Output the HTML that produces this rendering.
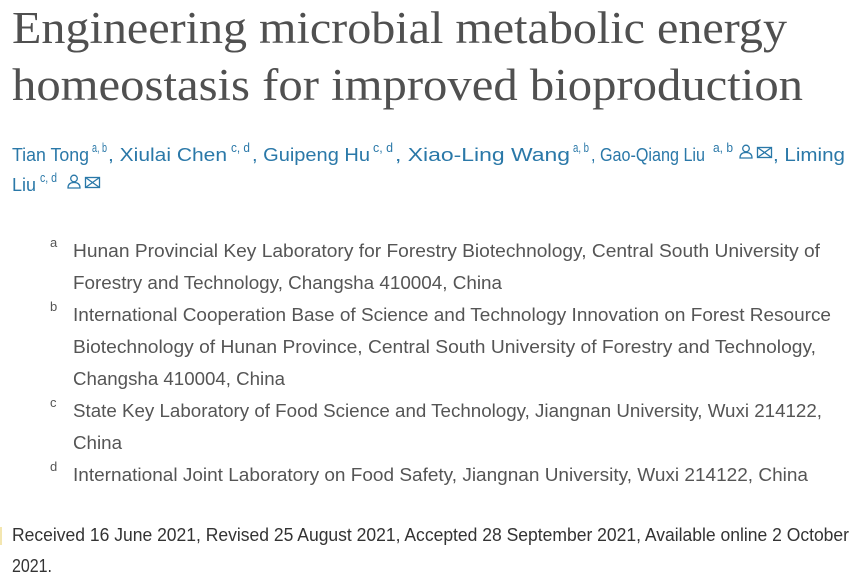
<!DOCTYPE html>
<html>
<head>
<meta charset="utf-8">
<style>
  html, body { margin:0; padding:0; background:#ffffff; }
  body { width:858px; height:578px; overflow:hidden; }
  svg { display:block; }
  .t { font-family:"Liberation Serif", serif; font-size:45px; fill:#505050; }
  .au { font-family:"Liberation Sans", sans-serif; font-size:18px; fill:#2a78a8; }
  .sup { font-family:"Liberation Sans", sans-serif; font-size:13px; fill:#2a78a8; }
  .af { font-family:"Liberation Sans", sans-serif; font-size:18px; fill:#555555; }
  .afs { font-family:"Liberation Sans", sans-serif; font-size:13px; fill:#555555; }
  .rc { font-family:"Liberation Sans", sans-serif; font-size:18px; fill:#333333; }
  .ic { fill:none; stroke:#2a78a8; stroke-width:1.3; }
</style>
</head>
<body>
<svg width="858" height="578" viewBox="0 0 858 578" xmlns="http://www.w3.org/2000/svg">
  <!-- Title -->
  <text class="t" x="12" y="43" textLength="775" lengthAdjust="spacingAndGlyphs">Engineering microbial metabolic energy</text>
  <text class="t" x="12" y="100" textLength="791" lengthAdjust="spacingAndGlyphs">homeostasis for improved bioproduction</text>

  <!-- Authors line 1 -->
  <text class="au" x="12" y="161" textLength="77" lengthAdjust="spacingAndGlyphs">Tian Tong</text>
  <text class="sup" x="92" y="152" textLength="15" lengthAdjust="spacingAndGlyphs">a, b</text>
  <text class="au" x="108" y="161" textLength="119" lengthAdjust="spacingAndGlyphs">, Xiulai Chen</text>
  <text class="sup" x="231" y="152" textLength="19" lengthAdjust="spacingAndGlyphs">c, d</text>
  <text class="au" x="252" y="161" textLength="118" lengthAdjust="spacingAndGlyphs">, Guipeng Hu</text>
  <text class="sup" x="373" y="152" textLength="20" lengthAdjust="spacingAndGlyphs">c, d</text>
  <text class="au" x="395" y="161" textLength="175" lengthAdjust="spacingAndGlyphs">, Xiao-Ling Wang</text>
  <text class="sup" x="573" y="152" textLength="16" lengthAdjust="spacingAndGlyphs">a, b</text>
  <text class="au" x="591" y="161" textLength="114" lengthAdjust="spacingAndGlyphs">, Gao-Qiang Liu</text>
  <text class="sup" x="713" y="152" textLength="20" lengthAdjust="spacingAndGlyphs">a, b</text>
  <!-- person icon -->
  <g class="ic">
    <circle cx="746" cy="148.5" r="3.3"/>
    <path d="M740 158 Q740 152.5 746 152.5 Q752 152.5 752 158 Z"/>
  </g>
  <!-- envelope icon -->
  <g class="ic">
    <rect x="757.5" y="147.5" width="14" height="10"/>
    <path d="M757.5 147.5 L771.5 157.5 M771.5 147.5 L757.5 157.5"/>
  </g>
  <text class="au" x="773" y="161" textLength="72" lengthAdjust="spacingAndGlyphs">, Liming</text>

  <!-- Authors line 2 -->
  <text class="au" x="12" y="191" textLength="24" lengthAdjust="spacingAndGlyphs">Liu</text>
  <text class="sup" x="40" y="182" textLength="17" lengthAdjust="spacingAndGlyphs">c, d</text>
  <g class="ic">
    <circle cx="74" cy="178.5" r="3.3"/>
    <path d="M68 188 Q68 182.5 74 182.5 Q80 182.5 80 188 Z"/>
  </g>
  <g class="ic">
    <rect x="85.5" y="177.5" width="14" height="10"/>
    <path d="M85.5 177.5 L99.5 187.5 M99.5 177.5 L85.5 187.5"/>
  </g>

  <!-- Affiliations -->
  <text class="afs" x="50" y="247">a</text>
  <text class="af" x="73" y="257" textLength="747" lengthAdjust="spacingAndGlyphs">Hunan Provincial Key Laboratory for Forestry Biotechnology, Central South University of</text>
  <text class="af" x="73" y="289" textLength="429" lengthAdjust="spacingAndGlyphs">Forestry and Technology, Changsha 410004, China</text>

  <text class="afs" x="50" y="311">b</text>
  <text class="af" x="73" y="321" textLength="758" lengthAdjust="spacingAndGlyphs">International Cooperation Base of Science and Technology Innovation on Forest Resource</text>
  <text class="af" x="73" y="353" textLength="743" lengthAdjust="spacingAndGlyphs">Biotechnology of Hunan Province, Central South University of Forestry and Technology,</text>
  <text class="af" x="73" y="385" textLength="212" lengthAdjust="spacingAndGlyphs">Changsha 410004, China</text>

  <text class="afs" x="50" y="407">c</text>
  <text class="af" x="73" y="417" textLength="749" lengthAdjust="spacingAndGlyphs">State Key Laboratory of Food Science and Technology, Jiangnan University, Wuxi 214122,</text>
  <text class="af" x="73" y="449" textLength="49" lengthAdjust="spacingAndGlyphs">China</text>

  <text class="afs" x="50" y="471">d</text>
  <text class="af" x="73" y="481" textLength="735" lengthAdjust="spacingAndGlyphs">International Joint Laboratory on Food Safety, Jiangnan University, Wuxi 214122, China</text>

  <!-- Received -->
  <rect x="0" y="527" width="2" height="18" fill="#f3e6b0"/>
  <text class="rc" x="12" y="541" textLength="837" lengthAdjust="spacingAndGlyphs">Received 16 June 2021, Revised 25 August 2021, Accepted 28 September 2021, Available online 2 October</text>
  <text class="rc" x="12" y="572" textLength="40" lengthAdjust="spacingAndGlyphs">2021.</text>
</svg>
</body>
</html>
